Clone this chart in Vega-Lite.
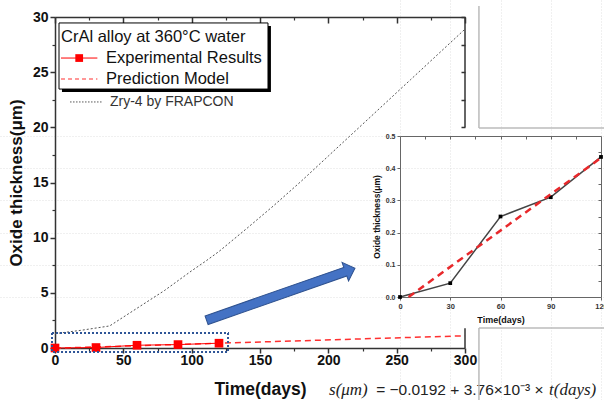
{
  "$schema": "https://vega.github.io/schema/vega-lite/v6.json",
  "width": 604,
  "height": 400,
  "autosize": "none",
  "padding": 0,
  "background": "white",
  "config": {
    "view": {"stroke": null},
    "font": "Liberation Sans",
    "axis": {"grid": false, "labelFont": "Liberation Sans", "titleFont": "Liberation Sans", "domainColor": "#333", "tickColor": "#333", "labelColor": "#111", "titleColor": "#111"}
  },
  "datasets": {
    "exp": [
      {"t": 0, "v": 0.0},
      {"t": 30, "v": 0.043},
      {"t": 60, "v": 0.25},
      {"t": 90, "v": 0.31},
      {"t": 120, "v": 0.435}
    ],
    "pred": [
      {"t": 0, "v": -0.0192},
      {"t": 300, "v": 1.1088}
    ],
    "predIn": [
      {"t": 5.1, "v": 0.0},
      {"t": 120, "v": 0.432}
    ],
    "zry": [
      {"t": 0, "v": 1.3},
      {"t": 20, "v": 1.62},
      {"t": 40, "v": 2.0},
      {"t": 50, "v": 2.8},
      {"t": 60, "v": 3.6},
      {"t": 70, "v": 4.4},
      {"t": 80, "v": 5.2},
      {"t": 90, "v": 6.1},
      {"t": 100, "v": 7.0},
      {"t": 110, "v": 7.85},
      {"t": 120, "v": 8.75},
      {"t": 140, "v": 10.8},
      {"t": 160, "v": 12.9},
      {"t": 180, "v": 15.1},
      {"t": 200, "v": 17.4},
      {"t": 220, "v": 19.7},
      {"t": 240, "v": 22.0},
      {"t": 260, "v": 24.3},
      {"t": 280, "v": 26.6},
      {"t": 300, "v": 28.9}
    ],
    "frame": [
      {"t": 300, "t2": 300, "v": 30, "v2": 20.0},
      {"t": 300, "t2": 300, "v": 1.8, "v2": 0}
    ],
    "slide": [
      {"t": 310.2, "t2": 310.2, "v": 31.0, "v2": 19.94},
      {"t": 310.2, "t2": 402, "v": 19.94, "v2": 19.94},
      {"t": 310.2, "t2": 310.2, "v": 1.81, "v2": -4.8},
      {"t": 310.2, "t2": 402, "v": 1.81, "v2": 1.81}
    ]
  },
  "layer": [
    {
      "layer": [
        {
          "data": {"name": "zry"},
          "mark": {"type": "line", "stroke": "#555", "strokeWidth": 1, "strokeDash": [2, 2]},
          "encoding": {
            "x": {"field": "t", "type": "quantitative", "scale": {"domain": [0, 300], "range": [55, 465], "nice": false, "zero": false}, "axis": null},
            "y": {"field": "v", "type": "quantitative", "scale": {"domain": [0, 30], "range": [348, 17], "nice": false, "zero": false}, "axis": null}
          }
        },
        {
          "data": {"name": "pred"},
          "mark": {"type": "line", "stroke": "#FF3030", "strokeWidth": 1.5, "strokeDash": [6, 4]},
          "encoding": {
            "x": {"field": "t", "type": "quantitative", "scale": {"domain": [0, 300], "range": [55, 465], "nice": false, "zero": false}, "axis": null},
            "y": {"field": "v", "type": "quantitative", "scale": {"domain": [0, 30], "range": [348, 17], "nice": false, "zero": false}, "axis": null}
          }
        },
        {
          "data": {"name": "exp"},
          "mark": {"type": "line", "stroke": "#FF0000", "strokeWidth": 1},
          "encoding": {
            "x": {"field": "t", "type": "quantitative", "scale": {"domain": [0, 300], "range": [55, 465], "nice": false, "zero": false}, "axis": null},
            "y": {"field": "v", "type": "quantitative", "scale": {"domain": [0, 30], "range": [348, 17], "nice": false, "zero": false}, "axis": null}
          }
        },
        {
          "data": {"name": "exp"},
          "mark": {"type": "point", "shape": "square", "filled": true, "color": "#FF0000", "size": 75, "opacity": 1},
          "encoding": {
            "x": {"field": "t", "type": "quantitative", "scale": {"domain": [0, 300], "range": [55, 465], "nice": false, "zero": false}, "axis": null},
            "y": {"field": "v", "type": "quantitative", "scale": {"domain": [0, 30], "range": [348, 17], "nice": false, "zero": false}, "axis": null}
          }
        },
        {
          "data": {"values": [{"t": -2.2, "t2": 126.6, "v": 1.36, "v2": -0.36}]},
          "mark": {"type": "rect", "fillOpacity": 0, "stroke": "#2E5597", "strokeWidth": 2, "strokeDash": [2, 2]},
          "encoding": {
            "x": {"field": "t", "type": "quantitative", "scale": {"domain": [0, 300], "range": [55, 465], "nice": false, "zero": false}, "axis": null},
            "x2": {"field": "t2"},
            "y": {"field": "v", "type": "quantitative", "scale": {"domain": [0, 30], "range": [348, 17], "nice": false, "zero": false}, "axis": null},
            "y2": {"field": "v2"}
          }
        },
        {
          "data": {"values": [{"t": 165.2, "v": 4.87}]},
          "mark": {"type": "point", "shape": "M-1,-0.058L0.87,-0.058L0.87,-0.125L1,0L0.87,0.125L0.87,0.058L-1,0.058Z", "size": 24712, "angle": 340.7, "filled": true, "fill": "#4472C4", "stroke": "#2F528F", "strokeWidth": 1, "opacity": 1},
          "encoding": {
            "x": {"field": "t", "type": "quantitative", "scale": {"domain": [0, 300], "range": [55, 465], "nice": false, "zero": false}, "axis": null},
            "y": {"field": "v", "type": "quantitative", "scale": {"domain": [0, 30], "range": [348, 17], "nice": false, "zero": false}, "axis": null}
          }
        },
        {
          "data": {"values": [{"t": 5.1, "t2": 158.0, "v": 29.19, "v2": 23.2}]},
          "mark": {"type": "rect", "fill": "#000"},
          "encoding": {
            "x": {"field": "t", "type": "quantitative", "scale": {"domain": [0, 300], "range": [55, 465], "nice": false, "zero": false}, "axis": null},
            "x2": {"field": "t2"},
            "y": {"field": "v", "type": "quantitative", "scale": {"domain": [0, 30], "range": [348, 17], "nice": false, "zero": false}, "axis": null},
            "y2": {"field": "v2"}
          }
        },
        {
          "data": {"values": [{"t": 2.93, "t2": 155.85, "v": 29.46, "v2": 23.47}]},
          "mark": {"type": "rect", "fill": "#fff", "stroke": "#000", "strokeWidth": 1},
          "encoding": {
            "x": {"field": "t", "type": "quantitative", "scale": {"domain": [0, 300], "range": [55, 465], "nice": false, "zero": false}, "axis": null},
            "x2": {"field": "t2"},
            "y": {"field": "v", "type": "quantitative", "scale": {"domain": [0, 30], "range": [348, 17], "nice": false, "zero": false}, "axis": null},
            "y2": {"field": "v2"}
          }
        },
        {
          "data": {"values": [{"t": 4.4, "t2": 31.0, "v": 26.28}]},
          "mark": {"type": "rule", "stroke": "#FF0000", "strokeWidth": 1},
          "encoding": {
            "x": {"field": "t", "type": "quantitative", "scale": {"domain": [0, 300], "range": [55, 465], "nice": false, "zero": false}, "axis": null},
            "x2": {"field": "t2"},
            "y": {"field": "v", "type": "quantitative", "scale": {"domain": [0, 30], "range": [348, 17], "nice": false, "zero": false}, "axis": null}
          }
        },
        {
          "data": {"values": [{"t": 17.7, "v": 26.28}]},
          "mark": {"type": "point", "shape": "square", "filled": true, "color": "#FF0000", "size": 60, "opacity": 1},
          "encoding": {
            "x": {"field": "t", "type": "quantitative", "scale": {"domain": [0, 300], "range": [55, 465], "nice": false, "zero": false}, "axis": null},
            "y": {"field": "v", "type": "quantitative", "scale": {"domain": [0, 30], "range": [348, 17], "nice": false, "zero": false}, "axis": null}
          }
        },
        {
          "data": {"values": [{"t": 4.4, "t2": 31.0, "v": 24.38}]},
          "mark": {"type": "rule", "stroke": "#FF3030", "strokeWidth": 1.2, "strokeDash": [4, 3]},
          "encoding": {
            "x": {"field": "t", "type": "quantitative", "scale": {"domain": [0, 300], "range": [55, 465], "nice": false, "zero": false}, "axis": null},
            "x2": {"field": "t2"},
            "y": {"field": "v", "type": "quantitative", "scale": {"domain": [0, 30], "range": [348, 17], "nice": false, "zero": false}, "axis": null}
          }
        },
        {
          "data": {"values": [{"t": 11.0, "t2": 35.1, "v": 22.3}]},
          "mark": {"type": "rule", "stroke": "#555", "strokeWidth": 1, "strokeDash": [1.5, 1.5]},
          "encoding": {
            "x": {"field": "t", "type": "quantitative", "scale": {"domain": [0, 300], "range": [55, 465], "nice": false, "zero": false}, "axis": null},
            "x2": {"field": "t2"},
            "y": {"field": "v", "type": "quantitative", "scale": {"domain": [0, 30], "range": [348, 17], "nice": false, "zero": false}, "axis": null}
          }
        },
        {
          "data": {"values": [
            {"t": 4.4, "v": 28.19, "label": "CrAl alloy at 360°C water"},
            {"t": 37.3, "v": 26.28, "label": "Experimental Results"},
            {"t": 37.3, "v": 24.38, "label": "Prediction Model"}
          ]},
          "mark": {"type": "text", "align": "left", "baseline": "middle", "fontSize": 16.5, "font": "Liberation Sans", "color": "#111"},
          "encoding": {
            "x": {"field": "t", "type": "quantitative", "scale": {"domain": [0, 300], "range": [55, 465], "nice": false, "zero": false}, "axis": null},
            "y": {"field": "v", "type": "quantitative", "scale": {"domain": [0, 30], "range": [348, 17], "nice": false, "zero": false}, "axis": null},
            "text": {"field": "label"}
          }
        },
        {
          "data": {"values": [{"t": 40.2, "v": 22.3, "label": "Zry-4 by FRAPCON"}]},
          "mark": {"type": "text", "align": "left", "baseline": "middle", "fontSize": 14, "font": "Liberation Sans", "color": "#333"},
          "encoding": {
            "x": {"field": "t", "type": "quantitative", "scale": {"domain": [0, 300], "range": [55, 465], "nice": false, "zero": false}, "axis": null},
            "y": {"field": "v", "type": "quantitative", "scale": {"domain": [0, 30], "range": [348, 17], "nice": false, "zero": false}, "axis": null},
            "text": {"field": "label"}
          }
        },
        {
          "data": {"values": [
            {"t": 200.5, "v": -3.81, "label": "s(μm)"},
            {"t": 361.5, "v": -3.81, "label": "t(days)"}
          ]},
          "mark": {"type": "text", "align": "left", "baseline": "middle", "fontSize": 17, "font": "Liberation Serif", "fontStyle": "italic", "color": "#222"},
          "encoding": {
            "x": {"field": "t", "type": "quantitative", "scale": {"domain": [0, 300], "range": [55, 465], "nice": false, "zero": false}, "axis": null},
            "y": {"field": "v", "type": "quantitative", "scale": {"domain": [0, 30], "range": [348, 17], "nice": false, "zero": false}, "axis": null},
            "text": {"field": "label"}
          }
        },
        {
          "data": {"values": [{"t": 235.0, "v": -3.81, "label": "= −0.0192 + 3.76×10⁻³ ×"}]},
          "mark": {"type": "text", "align": "left", "baseline": "middle", "fontSize": 15.5, "font": "Liberation Sans", "color": "#222"},
          "encoding": {
            "x": {"field": "t", "type": "quantitative", "scale": {"domain": [0, 300], "range": [55, 465], "nice": false, "zero": false}, "axis": null},
            "y": {"field": "v", "type": "quantitative", "scale": {"domain": [0, 30], "range": [348, 17], "nice": false, "zero": false}, "axis": null},
            "text": {"field": "label"}
          }
        },
        {
          "data": {"name": "frame"},
          "mark": {"type": "rule", "stroke": "#333", "strokeWidth": 1.5},
          "encoding": {
            "x": {"field": "t", "type": "quantitative", "scale": {"domain": [0, 300], "range": [55, 465], "nice": false, "zero": false}, "axis": null},
            "x2": {"field": "t2"},
            "y": {"field": "v", "type": "quantitative", "scale": {"domain": [0, 30], "range": [348, 17], "nice": false, "zero": false}, "axis": null},
            "y2": {"field": "v2"}
          }
        },
        {
          "data": {"name": "slide"},
          "mark": {"type": "rule", "stroke": "#BBBBBB", "strokeWidth": 1.5},
          "encoding": {
            "x": {"field": "t", "type": "quantitative", "scale": {"domain": [0, 300], "range": [55, 465], "nice": false, "zero": false}, "axis": null},
            "x2": {"field": "t2"},
            "y": {"field": "v", "type": "quantitative", "scale": {"domain": [0, 30], "range": [348, 17], "nice": false, "zero": false}, "axis": null},
            "y2": {"field": "v2"}
          }
        },
        {
          "mark": {"type": "rule", "opacity": 0},
          "encoding": {
            "x": {"datum": 0, "type": "quantitative", "scale": {"domain": [0, 300], "range": [55, 465], "nice": false, "zero": false},
              "axis": {"orient": "bottom", "offset": -52, "values": [0, 50, 100, 150, 200, 250, 300], "title": "Time(days)", "titleFontSize": 17.5, "titleFontWeight": "bold", "titlePadding": 13, "labelFontSize": 14, "labelFontWeight": "bold", "labelPadding": 0, "tickSize": 5, "tickWidth": 1.5, "domainWidth": 1.5, "labelFlush": false, "labelOverlap": false}}
          }
        },
        {
          "mark": {"type": "rule", "opacity": 0},
          "encoding": {
            "y": {"datum": 0, "type": "quantitative", "scale": {"domain": [0, 30], "range": [348, 17], "nice": false, "zero": false},
              "axis": {"orient": "left", "offset": -55, "values": [0, 5, 10, 15, 20, 25, 30], "title": "Oxide thickness(μm)", "titleFontSize": 17, "titleFontWeight": "bold", "titlePadding": 7, "labelFontSize": 14, "labelFontWeight": "bold", "labelPadding": 2, "tickSize": 5, "tickWidth": 1.5, "domainWidth": 1.5, "labelFlush": false, "labelOverlap": false}}
          }
        },
        {
          "mark": {"type": "rule", "opacity": 0},
          "encoding": {
            "x": {"datum": 0, "type": "quantitative", "scale": {"domain": [0, 300], "range": [55, 465], "nice": false, "zero": false},
              "axis": {"orient": "bottom", "offset": -52, "values": [25, 75, 125, 175, 225, 275], "labels": false, "domain": false, "tickSize": 3, "tickWidth": 1.2, "title": null}}
          }
        },
        {
          "mark": {"type": "rule", "opacity": 0},
          "encoding": {
            "y": {"datum": 0, "type": "quantitative", "scale": {"domain": [0, 30], "range": [348, 17], "nice": false, "zero": false},
              "axis": {"orient": "left", "offset": -55, "values": [2.5, 7.5, 12.5, 17.5, 22.5, 27.5], "labels": false, "domain": false, "tickSize": 3, "tickWidth": 1.2, "title": null}}
          }
        },
        {
          "mark": {"type": "rule", "opacity": 0},
          "encoding": {
            "x": {"datum": 0, "type": "quantitative", "scale": {"domain": [0, 300], "range": [55, 465], "nice": false, "zero": false},
              "axis": {"orient": "top", "offset": -17, "values": [0, 50, 100, 150, 200, 250, 300], "labels": false, "domain": true, "domainWidth": 1.5, "tickSize": -6, "tickWidth": 1.5, "title": null}}
          }
        },
        {
          "mark": {"type": "rule", "opacity": 0},
          "encoding": {
            "x": {"datum": 0, "type": "quantitative", "scale": {"domain": [0, 300], "range": [55, 465], "nice": false, "zero": false},
              "axis": {"orient": "top", "offset": -17, "values": [25, 75, 125, 175, 225, 275], "labels": false, "domain": false, "tickSize": -3, "tickWidth": 1.2, "title": null}}
          }
        },
        {
          "mark": {"type": "rule", "opacity": 0},
          "encoding": {
            "y": {"datum": 0, "type": "quantitative", "scale": {"domain": [0, 30], "range": [348, 17], "nice": false, "zero": false},
              "axis": {"orient": "right", "offset": -139, "values": [20, 22.5, 25, 27.5, 30], "labels": false, "domain": false, "tickSize": -4, "tickWidth": 1.5, "title": null}}
          }
        }
      ],
      "resolve": {"axis": {"x": "independent", "y": "independent"}}
    },
    {
      "layer": [
        {
          "data": {"name": "exp"},
          "mark": {"type": "line", "stroke": "#444", "strokeWidth": 1.5},
          "encoding": {
            "x": {"field": "t", "type": "quantitative", "scale": {"domain": [0, 120], "range": [400, 601], "nice": false, "zero": false}, "axis": null},
            "y": {"field": "v", "type": "quantitative", "scale": {"domain": [0, 0.5], "range": [297, 136], "nice": false, "zero": false}, "axis": null}
          }
        },
        {
          "data": {"name": "exp"},
          "mark": {"type": "point", "shape": "square", "filled": true, "color": "#000", "size": 14, "opacity": 1},
          "encoding": {
            "x": {"field": "t", "type": "quantitative", "scale": {"domain": [0, 120], "range": [400, 601], "nice": false, "zero": false}, "axis": null},
            "y": {"field": "v", "type": "quantitative", "scale": {"domain": [0, 0.5], "range": [297, 136], "nice": false, "zero": false}, "axis": null}
          }
        },
        {
          "data": {"name": "predIn"},
          "mark": {"type": "line", "stroke": "#E8282B", "strokeWidth": 2.5, "strokeDash": [7, 5]},
          "encoding": {
            "x": {"field": "t", "type": "quantitative", "scale": {"domain": [0, 120], "range": [400, 601], "nice": false, "zero": false}, "axis": null},
            "y": {"field": "v", "type": "quantitative", "scale": {"domain": [0, 0.5], "range": [297, 136], "nice": false, "zero": false}, "axis": null}
          }
        },
        {
          "mark": {"type": "rule", "opacity": 0},
          "encoding": {
            "x": {"datum": 0, "type": "quantitative", "scale": {"domain": [0, 120], "range": [400, 601], "nice": false, "zero": false},
              "axis": {"orient": "bottom", "offset": -103, "values": [0, 30, 60, 90, 120], "title": "Time(days)", "titleFontSize": 9, "titleFontWeight": "bold", "titlePadding": 6, "labelFontSize": 7.5, "labelFontWeight": "bold", "labelColor": "#333", "labelPadding": 2, "tickSize": 3, "domainColor": "#666", "tickColor": "#666", "labelFlush": false, "labelOverlap": false, "grid": true, "gridColor": "#d8d8d8", "gridDash": [1, 2], "gridWidth": 0.8}}
          }
        },
        {
          "mark": {"type": "rule", "opacity": 0},
          "encoding": {
            "y": {"datum": 0, "type": "quantitative", "scale": {"domain": [0, 0.5], "range": [297, 136], "nice": false, "zero": false},
              "axis": {"orient": "left", "offset": -400, "values": [0, 0.1, 0.2, 0.3, 0.4, 0.5], "format": ".1f", "title": "Oxide thickness(μm)", "titleFontSize": 8.5, "titleFontWeight": "bold", "titlePadding": 4, "labelFontSize": 7, "labelFontWeight": "bold", "labelColor": "#333", "labelPadding": 2, "tickSize": 3, "domainColor": "#666", "tickColor": "#666", "labelFlush": false, "labelOverlap": false, "grid": true, "gridColor": "#d8d8d8", "gridDash": [1, 2], "gridWidth": 0.8}}
          }
        },
        {
          "mark": {"type": "rule", "opacity": 0},
          "encoding": {
            "x": {"datum": 0, "type": "quantitative", "scale": {"domain": [0, 120], "range": [400, 601], "nice": false, "zero": false},
              "axis": {"orient": "top", "offset": -136, "values": [15, 30, 45, 60, 75, 90, 105], "labels": false, "domain": true, "domainColor": "#666", "tickColor": "#666", "tickSize": -3, "title": null}}
          }
        },
        {
          "mark": {"type": "rule", "opacity": 0},
          "encoding": {
            "y": {"datum": 0, "type": "quantitative", "scale": {"domain": [0, 0.5], "range": [297, 136], "nice": false, "zero": false},
              "axis": {"orient": "right", "offset": -3, "values": [0.05, 0.1, 0.15, 0.2, 0.25, 0.3, 0.35, 0.4, 0.45], "labels": false, "domain": true, "domainColor": "#666", "tickColor": "#666", "tickSize": -3, "title": null}}
          }
        }
      ],
      "resolve": {"axis": {"x": "independent", "y": "independent"}}
    }
  ],
  "resolve": {"scale": {"x": "independent", "y": "independent"}}
}
